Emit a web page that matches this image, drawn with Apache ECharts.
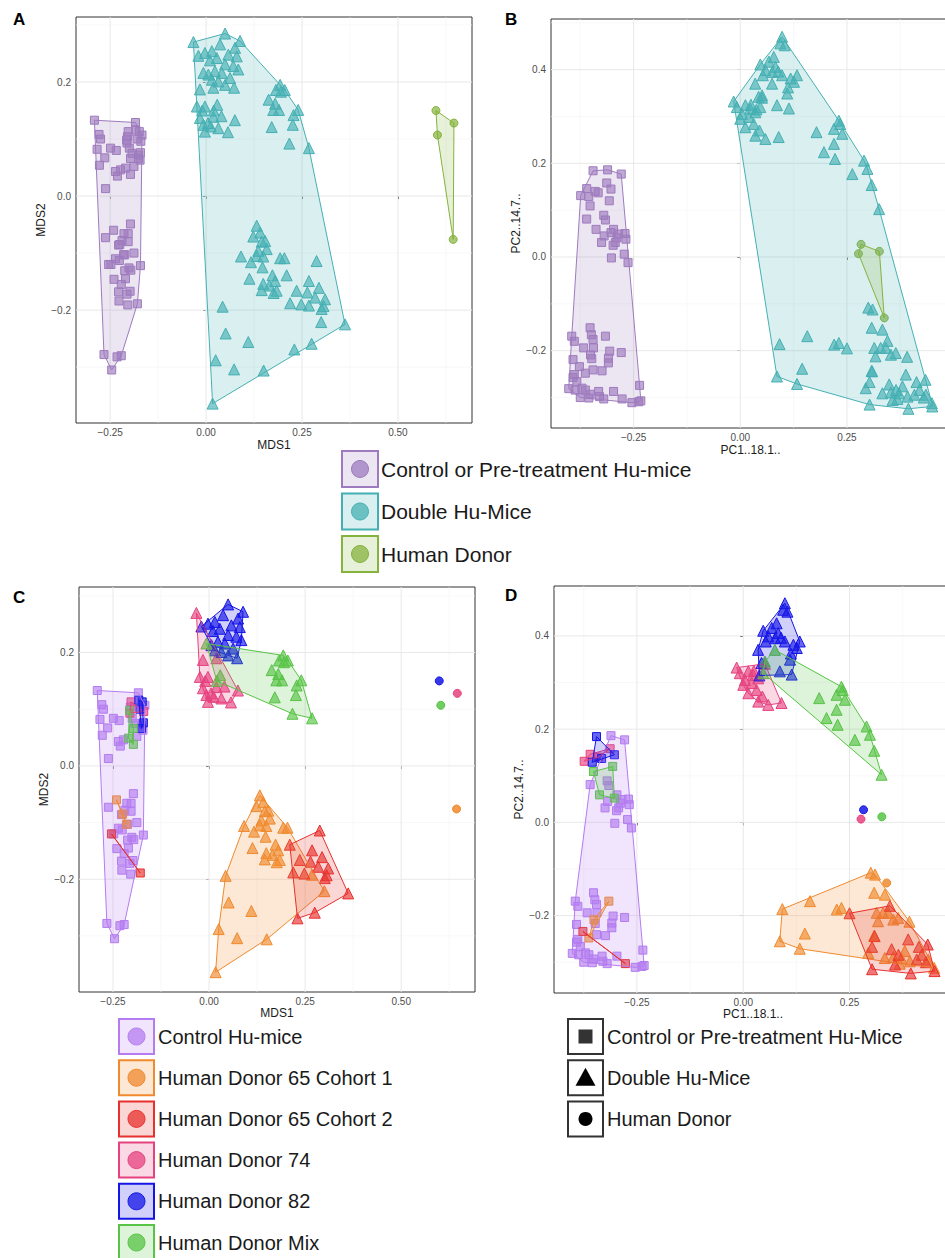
<!DOCTYPE html>
<html><head><meta charset="utf-8">
<script src="https://cdn.jsdelivr.net/npm/echarts@6/dist/echarts.min.js"></script>
<style>html,body{margin:0;padding:0;background:#fff;}#c{width:945px;height:1258px;}</style>
</head><body><div id="c"></div>
<script>
// ---------------- DATA: MDS coordinates (panels A and C) ----------------
const mdsCtrl = [[-0.291,0.133],[-0.184,0.129],[-0.279,0.108],[-0.275,0.100],[-0.284,0.082],[-0.249,0.084],[-0.234,0.080],[-0.264,0.067],[-0.278,0.054],[-0.236,0.043],[-0.223,0.046],[-0.231,0.035],[-0.262,0.013],[-0.167,0.107],[-0.188,0.052],[-0.200,0.084],[-0.193,0.075],[-0.176,0.072],[-0.172,0.063],[-0.205,0.104],
 [-0.197,-0.049],[-0.262,-0.073],[-0.214,-0.066],[-0.203,-0.066],[-0.219,-0.078],[-0.203,-0.080],[-0.228,-0.086],[-0.188,-0.100],[-0.236,-0.110],[-0.226,-0.113],[-0.171,-0.122],[-0.201,-0.126],[-0.212,-0.131],[-0.196,-0.130],[-0.240,-0.146],[-0.210,-0.145],[-0.221,-0.155],[-0.228,-0.168],[-0.206,-0.172],[-0.198,-0.167],[-0.227,-0.184],[-0.204,-0.191],[-0.266,-0.278],[-0.232,-0.282],[-0.221,-0.280],[-0.246,-0.305],[-0.248,-0.120],[-0.212,-0.103]];
const mdsSq65c1 = [[-0.241,-0.060],[-0.225,-0.085],[-0.215,-0.103]];
const mdsSq65c2 = [[-0.254,-0.120],[-0.179,-0.189]];
const mdsSq74 = [[-0.203,0.113],[-0.206,0.093],[-0.170,0.096]];
const mdsSq82 = [[-0.183,0.116],[-0.174,0.113],[-0.171,0.076],[-0.176,0.066],[-0.180,0.100]];
const mdsSqMix = [[-0.207,0.098],[-0.197,0.066],[-0.197,0.038],[-0.210,0.049]];
const mdsTri65c1 = [[0.132,-0.052],[0.141,-0.064],[0.123,-0.071],[0.145,-0.080],[0.154,-0.079],[0.158,-0.093],[0.136,-0.096],[0.132,-0.105],[0.149,-0.106],[0.091,-0.106],[0.117,-0.116],[0.193,-0.109],[0.204,-0.109],[0.147,-0.125],[0.173,-0.139],[0.113,-0.145],[0.149,-0.154],[0.180,-0.149],[0.145,-0.165],[0.176,-0.170],[0.184,-0.166],[0.268,-0.192],[0.300,-0.221],[0.043,-0.194],[0.051,-0.241],[0.110,-0.256],[0.025,-0.288],[0.073,-0.304],[0.150,-0.306],[0.017,-0.364],[0.165,-0.157]];
const mdsTri65c2 = [[0.288,-0.114],[0.210,-0.139],[0.268,-0.149],[0.294,-0.161],[0.236,-0.166],[0.264,-0.169],[0.284,-0.178],[0.310,-0.181],[0.219,-0.188],[0.248,-0.190],[0.306,-0.193],[0.301,-0.198],[0.362,-0.225],[0.275,-0.259],[0.230,-0.269]];
const mdsTri74 = [[-0.033,0.270],[-0.016,0.187],[-0.024,0.157],[-0.003,0.157],[0.019,0.190],[-0.016,0.137],[0.019,0.139],[-0.007,0.125],[0.012,0.122],[0.032,0.119],[-0.003,0.113],[0.057,0.112],[0.075,0.133],[0.040,0.140],[0.005,0.128],[-0.010,0.150]];
const mdsTri82 = [[0.0495,0.285],[0.0885,0.272],[0.0755,0.260],[0.0365,0.266],[0.015,0.254],[-0.003,0.251],[-0.020,0.246],[0.028,0.242],[0.058,0.248],[0.080,0.245],[0.0495,0.231],[0.071,0.228],[0.023,0.219],[0.041,0.216],[0.0625,0.207],[0.015,0.204],[0.032,0.201],[0.0495,0.195],[0.073,0.190],[0.006,0.213],[0.084,0.222],[0.010,0.238]];
const mdsTriMix = [[-0.007,0.216],[0.029,0.160],[0.020,0.150],[0.193,0.195],[0.205,0.186],[0.182,0.186],[0.163,0.169],[0.180,0.162],[0.175,0.151],[0.190,0.151],[0.240,0.151],[0.228,0.142],[0.226,0.125],[0.171,0.121],[0.217,0.092],[0.268,0.084],[0.195,0.183]];
const mdsDonor65c1 = [[0.644,-0.076]];
const mdsDonor74 = [[0.646,0.128]];
const mdsDonor82 = [[0.599,0.150]];
const mdsDonorMix = [[0.603,0.107]];

// ---------------- DATA: PCA coordinates (panels B and D) ----------------
const pcaCtrl = [[-0.311,0.186],[-0.279,0.177],[-0.360,0.081],[-0.320,0.089],[-0.316,0.079],[-0.297,0.059],[-0.285,0.049],[-0.268,0.038],[-0.270,0.050],[-0.319,0.045],[-0.325,0.031],[-0.293,0.031],[-0.289,0.041],[-0.272,0.006],[-0.302,-0.002],[-0.263,-0.012],[-0.298,0.025],
 [-0.352,-0.151],[-0.349,-0.166],[-0.345,-0.176],[-0.395,-0.169],[-0.389,-0.180],[-0.367,-0.194],[-0.344,-0.194],[-0.306,-0.201],[-0.309,-0.216],[-0.309,-0.226],[-0.279,-0.204],[-0.324,-0.243],[-0.345,-0.241],[-0.392,-0.219],[-0.389,-0.251],[-0.392,-0.257],[-0.383,-0.266],[-0.402,-0.281],[-0.387,-0.284],[-0.371,-0.280],[-0.363,-0.284],[-0.352,-0.293],[-0.375,-0.300],[-0.355,-0.301],[-0.330,-0.298],[-0.320,-0.303],[-0.348,-0.217],[-0.332,-0.287],[-0.236,-0.274],[-0.254,-0.311],[-0.238,-0.309],[-0.233,-0.307],[-0.297,-0.287]];
const pcaSq65c1 = [[-0.316,-0.169],[-0.351,-0.209],[-0.363,-0.248]];
const pcaSq65c2 = [[-0.377,-0.234],[-0.277,-0.303]];
const pcaSq74 = [[-0.374,0.131],[-0.360,0.146],[-0.313,0.158],[-0.340,0.140]];
const pcaSq82 = [[-0.345,0.184],[-0.303,0.145],[-0.333,0.137],[-0.355,0.129]];
const pcaSqMix = [[-0.352,0.109],[-0.307,0.120],[-0.303,0.052],[-0.338,0.059]];
const pcaTri65c1 = [[0.300,-0.108],[0.310,-0.112],[0.308,-0.151],[0.333,-0.155],[0.157,-0.169],[0.092,-0.186],[0.220,-0.187],[0.231,-0.1835],[0.314,-0.194],[0.329,-0.194],[0.341,-0.194],[0.317,-0.212],[0.353,-0.2085],[0.3645,-0.205],[0.391,-0.213],[0.145,-0.2385],[0.086,-0.255],[0.133,-0.271],[0.308,-0.243],[0.294,-0.280],[0.333,-0.291],[0.353,-0.289],[0.372,-0.291],[0.380,-0.276],[0.392,-0.298],[0.435,-0.294],[0.449,-0.312],[0.368,-0.303]];
const pcaTri65c2 = [[0.345,-0.179],[0.250,-0.195],[0.388,-0.251],[0.309,-0.244],[0.303,-0.267],[0.349,-0.272],[0.413,-0.267],[0.434,-0.262],[0.420,-0.284],[0.357,-0.305],[0.408,-0.294],[0.303,-0.315],[0.394,-0.324],[0.450,-0.319],[0.365,-0.284],[0.430,-0.300]];
const pcaTri74 = [[-0.0155,0.332],[-0.008,0.320],[0.012,0.324],[0.004,0.3055],[0.0235,0.3165],[0.0353,0.309],[0.0,0.295],[0.020,0.299],[0.051,0.340],[0.0315,0.284],[0.012,0.277],[0.0353,0.259],[0.0588,0.252],[0.090,0.256],[0.045,0.270],[0.025,0.325]];
const pcaTri82 = [[0.098,0.470],[0.094,0.456],[0.104,0.452],[0.0785,0.427],[0.067,0.417],[0.047,0.411],[0.059,0.399],[0.082,0.406],[0.089,0.396],[0.098,0.388],[0.053,0.388],[0.133,0.388],[0.118,0.381],[0.126,0.374],[0.035,0.370],[0.110,0.349],[0.086,0.324],[0.114,0.317],[0.043,0.342],[0.038,0.315],[0.075,0.395],[0.112,0.362]];
const pcaTriMix = [[0.0745,0.370],[0.051,0.345],[0.047,0.320],[0.231,0.291],[0.2196,0.2736],[0.239,0.263],[0.1787,0.2665],[0.2196,0.2415],[0.196,0.2237],[0.222,0.2093],[0.290,0.2057],[0.298,0.188],[0.2626,0.177],[0.308,0.1536],[0.3254,0.1022],[0.234,0.284]];
const pcaDonor65c1 = [[0.3375,-0.130]];
const pcaDonor74 = [[0.277,0.007]];
const pcaDonor82 = [[0.283,0.027]];
const pcaDonorMix = [[0.326,0.012]];

// ---------------- tick values and labels ----------------
const mdsXTicks = [-0.25, 0, 0.25, 0.5];
const mdsYTicks = [-0.2, 0, 0.2];
const mdsXMinor = [-0.125, 0.125, 0.375, 0.625];
const mdsYMinor = [-0.3, -0.1, 0.1, 0.3];
const pcaXTicks = [-0.25, 0, 0.25];
const pcaYTicks = [-0.2, 0, 0.2, 0.4];
const pcaXMinor = [-0.375, -0.125, 0.125, 0.375];
const pcaYMinor = [-0.3, -0.1, 0.1, 0.3, 0.5];
const typeLabels = ['Control or Pre-treatment Hu-mice', 'Double Hu-Mice', 'Human Donor'];
const donorLabels = ['Control Hu-mice', 'Human Donor 65 Cohort 1', 'Human Donor 65 Cohort 2', 'Human Donor 74', 'Human Donor 82', 'Human Donor Mix'];
const shapeLabels = ['Control or Pre-treatment Hu-Mice', 'Double Hu-Mice', 'Human Donor'];
const panelLabels = ['A', 'B', 'C', 'D'];
const axisNames = [['MDS1', 'MDS2'], ['PC1..18.1..', 'PC2..14.7..'], ['MDS1', 'MDS2'], ['PC1..18.1..', 'PC2..14.7..']];

// ---------------- styles ----------------
const FONT = 'Liberation Sans, Arial, Helvetica, sans-serif';
const typeColors = ['#9E7BBE', '#45B0B3', '#86B33E'];
const donorColors = ['#B47CF0', '#F08A2E', '#E8312E', '#E6427F', '#1515E8', '#57C445'];

function rgba(hex, a) {
  const n = parseInt(hex.slice(1), 16);
  return 'rgba(' + ((n >> 16) & 255) + ',' + ((n >> 8) & 255) + ',' + (n & 255) + ',' + a + ')';
}
function hull(pts) {
  if (pts.length < 3) return pts.slice();
  const p = pts.slice().sort((a, b) => a[0] - b[0] || a[1] - b[1]);
  const cr = (o, a, b) => (a[0] - o[0]) * (b[1] - o[1]) - (a[1] - o[1]) * (b[0] - o[0]);
  const lo = [], up = [];
  for (const q of p) { while (lo.length >= 2 && cr(lo[lo.length - 2], lo[lo.length - 1], q) <= 0) lo.pop(); lo.push(q); }
  for (let i = p.length - 1; i >= 0; i--) { const q = p[i]; while (up.length >= 2 && cr(up[up.length - 2], up[up.length - 1], q) <= 0) up.pop(); up.push(q); }
  lo.pop(); up.pop();
  return lo.concat(up);
}
const SYM = { sq: ['rect', 8], tri: ['triangle', 11], circ: ['circle', 8] };

function pointSeries(g, pts, kind, color, alpha) {
  return { type: 'scatter', xAxisIndex: g, yAxisIndex: g, data: pts, symbol: SYM[kind][0], symbolSize: SYM[kind][1],
    z: 3, silent: true, itemStyle: { color: rgba(color, alpha), borderColor: color, borderWidth: 1, opacity: 1 } };
}
function hullSeries(g, pts, color) {
  const h = hull(pts);
  return { type: 'custom', xAxisIndex: g, yAxisIndex: g, z: 4, silent: true, clip: false, data: [h[0]],
    renderItem: (params, api) => ({ type: 'polygon', shape: { points: h.map(p => api.coord(p)) },
      style: { fill: rgba(color, 0.2), stroke: color, lineWidth: 1 } }) };
}
function gridLineSeries(g, vals, vertical, color, width) {
  return { type: 'custom', xAxisIndex: g, yAxisIndex: g, z: 1, silent: true, clip: true,
    data: vals.map(v => vertical ? [v, 0] : [0, v]),
    renderItem: (params, api) => {
      const cs = params.coordSys;
      const p = api.coord([api.value(0), api.value(1)]);
      if (vertical) {
        if (p[0] < cs.x || p[0] > cs.x + cs.width) return null;
        return { type: 'line', shape: { x1: p[0], y1: cs.y, x2: p[0], y2: cs.y + cs.height }, style: { stroke: color, lineWidth: width } };
      }
      if (p[1] < cs.y || p[1] > cs.y + cs.height) return null;
      return { type: 'line', shape: { x1: cs.x, y1: p[1], x2: cs.x + cs.width, y2: p[1] }, style: { stroke: color, lineWidth: width } };
    } };
}
function fmt(dec) { return v => (v < -1e-9 ? '\u2212' : '') + Math.abs(v).toFixed(dec); }

const grids = [
  { left: 76, top: 17, width: 396, height: 406 },
  { left: 551, top: 19, width: 399, height: 409 },
  { left: 79, top: 587, width: 396, height: 405 },
  { left: 554, top: 586, width: 398, height: 407 }];
const xRanges = [[-0.339, 0.693], [-0.4436, 0.4915], [-0.3385, 0.692], [-0.445, 0.491]];
const yRanges = [[-0.398, 0.314], [-0.365, 0.508], [-0.399, 0.3157], [-0.366, 0.507]];
const xTicks = [mdsXTicks, pcaXTicks, mdsXTicks, pcaXTicks];
const yTicks = [mdsYTicks, pcaYTicks, mdsYTicks, pcaYTicks];
const xMinor = [mdsXMinor, pcaXMinor, mdsXMinor, pcaXMinor];
const yMinor = [mdsYMinor, pcaYMinor, mdsYMinor, pcaYMinor];
const xGap = [16, 16, 15, 15];
const yGap = [26, 27, 27, 27];

const xAxis = [], yAxis = [], series = [];
for (let i = 0; i < 4; i++) {
  xAxis.push({ gridIndex: i, type: 'value', min: xRanges[i][0], max: xRanges[i][1],
    name: axisNames[i][0], nameLocation: 'middle', nameGap: xGap[i],
    nameTextStyle: { fontSize: 12, color: '#1a1a1a', fontFamily: FONT },
    axisLine: { show: false }, splitLine: { show: false },
    axisTick: { show: true, customValues: xTicks[i], length: 3, lineStyle: { color: '#333', width: 1 } },
    axisLabel: { customValues: xTicks[i], formatter: fmt(2), fontSize: 10, color: '#4d4d4d', margin: 4, fontFamily: FONT } });
  yAxis.push({ gridIndex: i, type: 'value', min: yRanges[i][0], max: yRanges[i][1],
    name: axisNames[i][1], nameLocation: 'middle', nameGap: yGap[i],
    nameTextStyle: { fontSize: 12, color: '#1a1a1a', fontFamily: FONT },
    axisLine: { show: false }, splitLine: { show: false },
    axisTick: { show: true, customValues: yTicks[i], length: 3, lineStyle: { color: '#333', width: 1 } },
    axisLabel: { customValues: yTicks[i], formatter: fmt(1), fontSize: 10, color: '#4d4d4d', margin: 5, fontFamily: FONT } });
  series.push(gridLineSeries(i, xMinor[i], true, '#f4f4f4', 0.6));
  series.push(gridLineSeries(i, yMinor[i], false, '#f4f4f4', 0.6));
  series.push(gridLineSeries(i, xTicks[i], true, '#e8e8e8', 1));
  series.push(gridLineSeries(i, yTicks[i], false, '#e8e8e8', 1));
}

// Panels A (0) and B (1): coloured by sample type
[[0, 'mds'], [1, 'pca']].forEach(([g, k]) => {
  const S = k === 'mds'
    ? [mdsCtrl, mdsSq65c1, mdsSq65c2, mdsSq74, mdsSq82, mdsSqMix, mdsTri65c1, mdsTri65c2, mdsTri74, mdsTri82, mdsTriMix, mdsDonor65c1, mdsDonor74, mdsDonor82, mdsDonorMix]
    : [pcaCtrl, pcaSq65c1, pcaSq65c2, pcaSq74, pcaSq82, pcaSqMix, pcaTri65c1, pcaTri65c2, pcaTri74, pcaTri82, pcaTriMix, pcaDonor65c1, pcaDonor74, pcaDonor82, pcaDonorMix];
  const squares = [].concat(S[0], S[1], S[2], S[3], S[4], S[5]);
  const tris = [].concat(S[6], S[7], S[8], S[9], S[10]);
  const circs = [].concat(S[11], S[12], S[13], S[14]);
  series.push(pointSeries(g, squares, 'sq', typeColors[0], 0.65));
  series.push(pointSeries(g, tris, 'tri', typeColors[1], 0.65));
  series.push(pointSeries(g, circs, 'circ', typeColors[2], 0.7));
  series.push(hullSeries(g, squares, typeColors[0]));
  series.push(hullSeries(g, tris, typeColors[1]));
  series.push(hullSeries(g, circs, typeColors[2]));
});

// Panels C (2) and D (3): coloured by donor
[[2, 'mds'], [3, 'pca']].forEach(([g, k]) => {
  const sq = k === 'mds' ? [mdsCtrl, mdsSq65c1, mdsSq65c2, mdsSq74, mdsSq82, mdsSqMix] : [pcaCtrl, pcaSq65c1, pcaSq65c2, pcaSq74, pcaSq82, pcaSqMix];
  const tr = k === 'mds' ? [null, mdsTri65c1, mdsTri65c2, mdsTri74, mdsTri82, mdsTriMix] : [null, pcaTri65c1, pcaTri65c2, pcaTri74, pcaTri82, pcaTriMix];
  const ci = k === 'mds' ? [null, mdsDonor65c1, null, mdsDonor74, mdsDonor82, mdsDonorMix] : [null, pcaDonor65c1, null, pcaDonor74, pcaDonor82, pcaDonorMix];
  for (let d = 0; d < 6; d++) {
    series.push(pointSeries(g, sq[d], 'sq', donorColors[d], 0.65));
    if (tr[d]) series.push(pointSeries(g, tr[d], 'tri', donorColors[d], 0.65));
    if (ci[d]) series.push(pointSeries(g, ci[d], 'circ', donorColors[d], 0.85));
  }
  for (let d = 0; d < 6; d++) {
    series.push(hullSeries(g, sq[d], donorColors[d]));
    if (tr[d]) series.push(hullSeries(g, tr[d], donorColors[d]));
  }
});

// ---------------- legends & panel letters (graphic) ----------------
const graphic = [];
const panelPos = [[13, 11], [505, 11], [13, 589], [505, 587]];
panelLabels.forEach((t, i) => graphic.push({ type: 'text', left: panelPos[i][0], top: panelPos[i][1],
  style: { text: t, font: 'bold 17px ' + FONT, fill: '#000' } }));

function legendKey(x, yc, w, h, color, txt, fontSize, tx) {
  graphic.push({ type: 'rect', shape: { x: x, y: yc - h / 2, width: w, height: h },
    style: { fill: rgba(color, 0.2), stroke: color, lineWidth: 2 } });
  graphic.push({ type: 'circle', shape: { cx: x + w / 2, cy: yc, r: 8.5 },
    style: { fill: rgba(color, 0.75), stroke: color, lineWidth: 1 } });
  graphic.push({ type: 'text', x: tx, y: yc, style: { text: txt, font: fontSize + 'px ' + FONT, fill: '#1a1a1a', verticalAlign: 'middle', textAlign: 'left' } });
}
typeLabels.forEach((t, i) => legendKey(342, 469 + i * 42.5, 36, 36, typeColors[i], t, 21, 381));
donorLabels.forEach((t, i) => legendKey(119, 1036.5 + i * 41.2, 35, 35, donorColors[i], t, 20, 158));

shapeLabels.forEach((t, i) => {
  const yc = 1036.5 + i * 41.2, x = 568, w = 35;
  graphic.push({ type: 'rect', shape: { x: x, y: yc - 17.5, width: w, height: 35 }, style: { fill: '#fff', stroke: '#333', lineWidth: 2 } });
  const cx = x + w / 2;
  if (i === 0) graphic.push({ type: 'rect', shape: { x: cx - 7, y: yc - 7, width: 14, height: 14 }, style: { fill: '#333' } });
  if (i === 1) graphic.push({ type: 'polygon', shape: { points: [[cx, yc - 10], [cx + 10, yc + 8], [cx - 10, yc + 8]] }, style: { fill: '#000' } });
  if (i === 2) graphic.push({ type: 'circle', shape: { cx: cx, cy: yc, r: 7 }, style: { fill: '#000' } });
  graphic.push({ type: 'text', x: 607, y: yc, style: { text: t, font: '20px ' + FONT, fill: '#1a1a1a', verticalAlign: 'middle', textAlign: 'left' } });
});

const chart = echarts.init(document.getElementById('c'), null, { renderer: 'svg', width: 945, height: 1258 });
chart.setOption({
  animation: false,
  backgroundColor: '#ffffff',
  grid: grids.map(g => Object.assign({ show: true, borderColor: '#333', borderWidth: 1, backgroundColor: '#fff', containLabel: false, outerBoundsMode: 'none' }, g)),
  xAxis: xAxis, yAxis: yAxis, series: series, graphic: graphic
});
</script></body></html>
